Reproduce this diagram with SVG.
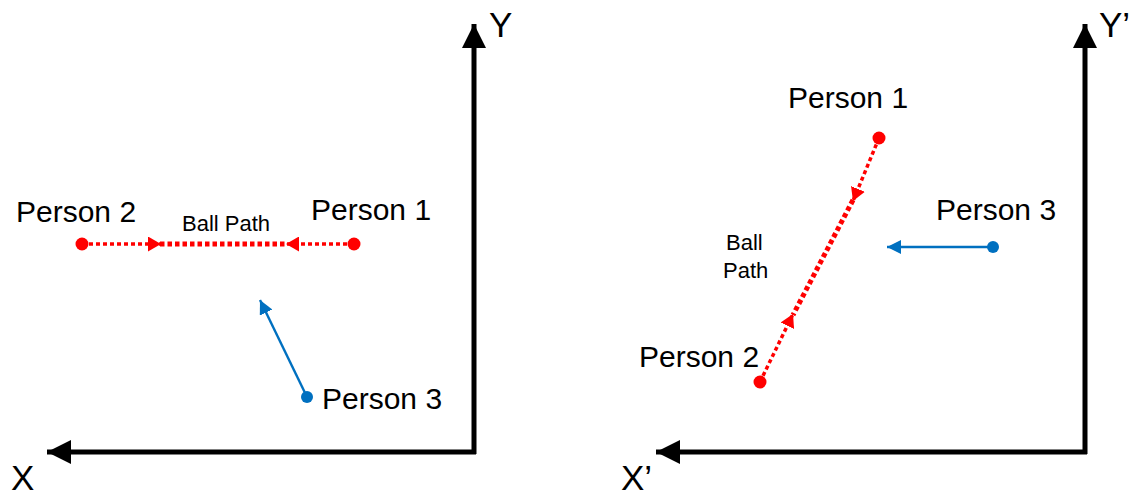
<svg xmlns="http://www.w3.org/2000/svg" width="1139" height="495" viewBox="0 0 1139 495">
<style>
text{font-family:"Liberation Sans",Arial,sans-serif;fill:#000}
.lbl{font-size:30px}
.small{font-size:22px}
.axl{font-size:35px}
.axis{stroke:#000;stroke-width:5;fill:none}
.ball{stroke:#f00;stroke-width:5;stroke-dasharray:4.5 3;fill:none}
.ballt{stroke:#f00;stroke-width:3.5;stroke-dasharray:4 3;fill:none}
.blue{stroke:#0070c0;stroke-width:2.4;fill:none}
</style>
<defs>
<marker id="ak" markerUnits="userSpaceOnUse" markerWidth="24" markerHeight="24" refX="20" refY="10" orient="auto" viewBox="0 0 20 20"><path d="M0,0 L20,10 L0,20 Z" fill="#000"/></marker>
<marker id="ar" markerUnits="userSpaceOnUse" markerWidth="13" markerHeight="15" refX="13" refY="7.5" orient="auto" viewBox="0 0 13 15"><path d="M0,0 L13,7.5 L0,15 Z" fill="#f00"/></marker>
<marker id="ab" markerUnits="userSpaceOnUse" markerWidth="14" markerHeight="14" refX="14" refY="7" orient="auto" viewBox="0 0 14 14"><path d="M0,0 L14,7 L0,14 Z" fill="#0070c0"/></marker>
</defs>
<g id="connectors">
<path class="axis" d="M474,454 V24" marker-end="url(#ak)"/>
<path class="axis" d="M476,452 H47" marker-end="url(#ak)"/>
<path class="axis" d="M1085,454 V24" marker-end="url(#ak)"/>
<path class="axis" d="M1087,452 H656" marker-end="url(#ak)"/>
<path class="ball" d="M160,244 H287"/>
<path class="ballt" d="M82,244 H161" marker-end="url(#ar)"/>
<path class="ballt" d="M354,244 H286" marker-end="url(#ar)"/>
<path class="blue" d="M307,397 L260,300" marker-end="url(#ab)"/>
<path class="ball" d="M853,200 L793,315"/>
<path class="ballt" d="M879,138 L853,201" marker-end="url(#ar)"/>
<path class="ballt" d="M760,382 L793,314" marker-end="url(#ar)"/>
<path class="blue" d="M993,247 H887" marker-end="url(#ab)"/>
</g>
<g id="axis-left">
<text class="axl" x="489" y="37">Y</text>
<text class="axl" x="11" y="490">X</text>
</g>
<g id="axis-right">
<text class="axl" x="1099" y="37">Y’</text>
<text class="axl" x="621" y="490">X’</text>
</g>
<g id="left-person2"><circle cx="82" cy="244" r="6.5" fill="#f00"/><text class="lbl" x="16" y="222">Person 2</text></g>
<g id="left-person1"><circle cx="354" cy="244" r="6.5" fill="#f00"/><text class="lbl" x="311" y="220">Person 1</text></g>
<g id="left-ballpath"><text class="small" x="182" y="231">Ball Path</text></g>
<g id="left-person3"><circle cx="307" cy="397" r="6" fill="#0070c0"/><text class="lbl" x="322" y="409">Person 3</text></g>
<g id="right-person1"><circle cx="879" cy="138" r="6.5" fill="#f00"/><text class="lbl" x="788" y="108">Person 1</text></g>
<g id="right-person2"><circle cx="760" cy="382" r="6.5" fill="#f00"/><text class="lbl" x="639" y="367">Person 2</text></g>
<g id="right-person3"><circle cx="993" cy="247" r="6" fill="#0070c0"/><text class="lbl" x="936" y="220">Person 3</text></g>
<g id="right-ballpath"><text class="small" x="726" y="250">Ball</text><text class="small" x="723" y="278">Path</text></g>
</svg>
